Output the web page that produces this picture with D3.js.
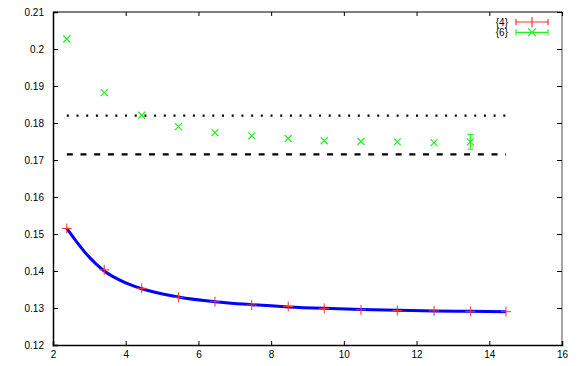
<!DOCTYPE html>
<html>
<head>
<meta charset="utf-8">
<script src="https://cdn.jsdelivr.net/npm/d3@7"></script>
<style>
  body { margin: 0; background: #fff; }
  text { font-family: "Liberation Sans", Arial, sans-serif; font-size: 10px; fill: #000; }
</style>
</head>
<body>
<svg width="581" height="366"></svg>
<script>
// data
let xs4 = [2.38, 3.41, 4.44, 5.45, 6.455, 7.465, 8.47, 9.46, 10.47, 11.47, 12.48, 13.48, 14.46];
let ys4 = [0.1515, 0.1403, 0.1353, 0.1329, 0.1317, 0.1308, 0.1304, 0.1299, 0.1295, 0.1293, 0.1292, 0.1291, 0.129];
let xs6 = [2.38, 3.41, 4.44, 5.45, 6.455, 7.465, 8.47, 9.46, 10.47, 11.47, 12.48, 13.48];
let ys6 = [0.2027, 0.1882, 0.1821, 0.179, 0.1774, 0.1765, 0.1758, 0.1752, 0.175, 0.1749, 0.1747, 0.1749];
let err6 = [0, 0, 0, 0, 0, 0, 0, 0, 0, 0, 0, 0.002];
// fit curve
let fitX = [2.38, 2.9, 3.41, 4.0, 4.44, 5.45, 6.455, 7.465, 8.47, 9.46, 10.47, 11.47, 12.48, 13.48, 14.46];
let fitY = [0.1515, 0.1448, 0.1400, 0.1368, 0.1352, 0.1330, 0.1317, 0.1309, 0.1303, 0.1299, 0.1296, 0.1294, 0.1292, 0.1291, 0.1290];
let dottedY = 0.182, dashedY = 0.1715;
let lineRange = [2.38, 14.46];
let xTicks = [2, 4, 6, 8, 10, 12, 14, 16];
let yTicks = [0.12, 0.13, 0.14, 0.15, 0.16, 0.17, 0.18, 0.19, 0.2, 0.21];
let legendNames = ["{4}", "{6}"];

let svg = d3.select("svg");
let L = 53, R = 562, T = 12, B = 345;
let x = d3.scaleLinear().domain([2, 16]).range([L, R]);
let y = d3.scaleLinear().domain([0.12, 0.21]).range([B, T]);

// frame
svg.append("line").attr("x1", L).attr("x2", R).attr("y1", T).attr("y2", T).attr("stroke", "#000").attr("stroke-width", 1.2);
svg.append("line").attr("x1", R).attr("x2", R).attr("y1", T).attr("y2", B).attr("stroke", "#888").attr("stroke-width", 1.5);

// axes, ticks pointing inward
let fmt = d => String(+d.toFixed(2));
svg.append("g").attr("transform", `translate(0,${B})`)
  .call(d3.axisBottom(x).tickValues(xTicks).tickSize(-4).tickPadding(6).tickFormat(d => d))
  .call(g => g.select(".domain").attr("stroke-width", 1.5));
svg.append("g").attr("transform", `translate(${L},0)`)
  .call(d3.axisLeft(y).tickValues(yTicks).tickSize(-5).tickPadding(9).tickFormat(fmt))
  .call(g => g.select(".domain").attr("stroke-width", 1.5));
svg.append("g").attr("transform", `translate(0,${T})`)
  .call(d3.axisTop(x).tickValues(xTicks).tickSize(-4).tickFormat(""))
  .call(g => g.select(".domain").remove());
svg.append("g").attr("transform", `translate(${R},0)`)
  .call(d3.axisRight(y).tickValues(yTicks).tickSize(-5).tickFormat(""))
  .call(g => g.select(".domain").remove());
svg.selectAll(".tick text").style("font-size", "10px").attr("fill", "#000");
svg.selectAll(".tick line").attr("stroke", "#000");

// reference lines
svg.append("line").attr("x1", x(lineRange[0])).attr("x2", x(lineRange[1]))
  .attr("y1", y(dottedY)).attr("y2", y(dottedY))
  .attr("stroke", "#000").attr("stroke-width", 2.2).attr("stroke-dasharray", "2,7.7");
svg.append("line").attr("x1", x(lineRange[0])).attr("x2", x(lineRange[1]))
  .attr("y1", y(dashedY)).attr("y2", y(dashedY))
  .attr("stroke", "#000").attr("stroke-width", 2.2).attr("stroke-dasharray", "6,7.7");

// blue fit curve
let fit = fitX.map((v, i) => ({x: v, y: fitY[i]}));
svg.append("path").datum(fit)
  .attr("fill", "none").attr("stroke", "#0000ff").attr("stroke-width", 3)
  .attr("d", d3.line().x(d => x(d.x)).y(d => y(d.y)).curve(d3.curveMonotoneX));

// red plus markers
let red = "#ff3030", green = "#22ee22";
let d4 = xs4.map((v, i) => ({x: v, y: ys4[i]}));
let g4 = svg.append("g").selectAll("g").data(d4).enter().append("g")
  .attr("transform", d => `translate(${x(d.x)},${y(d.y)})`);
g4.append("line").attr("x1", -5).attr("x2", 5).attr("stroke", red).attr("stroke-width", 1);
g4.append("line").attr("y1", -5).attr("y2", 5).attr("stroke", red).attr("stroke-width", 1);

// green cross markers with error bars
let d6 = xs6.map((v, i) => ({x: v, y: ys6[i], e: err6[i]}));
let g6 = svg.append("g").selectAll("g").data(d6).enter().append("g")
  .attr("transform", d => `translate(${x(d.x)},${y(d.y)})`);
g6.append("path").attr("d", "M-3.5,-3.5L3.5,3.5M-3.5,3.5L3.5,-3.5").attr("stroke", green).attr("stroke-width", 1.2);
g6.filter(d => d.e > 0).append("path")
  .attr("d", d => {
    let t = y(d.y + d.e) - y(d.y), b = y(d.y - d.e) - y(d.y);
    return `M0,${t}L0,${b}M-3,${t}L3,${t}M-3,${b}L3,${b}`;
  })
  .attr("stroke", green).attr("stroke-width", 1.2);

// legend
let lg = svg.append("g");
[red, green].forEach((c, i) => {
  let yy = 22 + i * 10.3;
  lg.append("text").attr("x", 508).attr("y", yy + 3.5).attr("text-anchor", "end").text(legendNames[i]);
  lg.append("path").attr("d", `M516,${yy}L548,${yy}M516,${yy - 3}L516,${yy + 3}M548,${yy - 3}L548,${yy + 3}`)
    .attr("stroke", c).attr("stroke-width", 1.2);
  if (i == 0) lg.append("path").attr("d", `M532,${yy - 5}L532,${yy + 5}`).attr("stroke", c).attr("stroke-width", 1.2);
  else lg.append("path").attr("d", `M528,${yy - 4}L536,${yy + 4}M528,${yy + 4}L536,${yy - 4}`).attr("stroke", c).attr("stroke-width", 1.2);
});
</script>
</body>
</html>
